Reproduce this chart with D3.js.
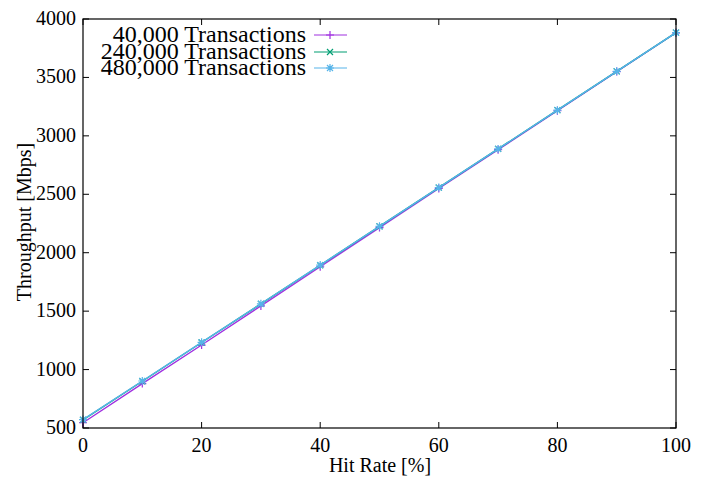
<!DOCTYPE html>
<html lang="en">
<head>
<meta charset="utf-8"/>
<title>Throughput vs hit rate</title>
<script src="https://d3js.org/d3.v7.min.js"></script>
<style>
  body { margin: 0; background: #fff; }
</style>
</head>
<body>
<script>
// data
const hitRates = [0, 10, 20, 30, 40, 50, 60, 70, 80, 90, 100]
const tx40k  = [545, 880, 1210, 1545, 1880, 2215, 2550, 2882, 3215, 3550, 3882]
const tx240k = [570, 900, 1232, 1562, 1893, 2225, 2557, 2888, 3220, 3552, 3884]
const tx480k = [572, 902, 1233, 1563, 1894, 2226, 2557, 2888, 3220, 3552, 3884]
const seriesNames = ["40,000 Transactions", "240,000 Transactions", "480,000 Transactions"]
const seriesValues = [tx40k, tx240k, tx480k]
const colors = ["#a030e0", "#009e73", "#56b4e9"]
const xTicks = [0, 20, 40, 60, 80, 100]
const yTicks = [500, 1000, 1500, 2000, 2500, 3000, 3500, 4000]

const W = 706, H = 479
const m = { left: 83, right: 706 - 676, top: 19, bottom: 479 - 428 }
const FONT = "Liberation Serif"

const svg = d3.select("body").append("svg").attr("width", W).attr("height", H)

const x = d3.scaleLinear().domain([0, 100]).range([m.left, W - m.right])
const y = d3.scaleLinear().domain([500, 4000]).range([H - m.bottom, m.top])

const tick = 6
// ticks, inward, mirrored
const g = svg.append("g").attr("stroke", "#000").attr("stroke-width", 1)
xTicks.forEach(v => {
  g.append("line").attr("x1", x(v)).attr("x2", x(v)).attr("y1", y(500)).attr("y2", y(500) - tick)
  g.append("line").attr("x1", x(v)).attr("x2", x(v)).attr("y1", y(4000)).attr("y2", y(4000) + tick)
})
yTicks.forEach(v => {
  g.append("line").attr("x1", x(0)).attr("x2", x(0) + tick).attr("y1", y(v)).attr("y2", y(v))
  g.append("line").attr("x1", x(100)).attr("x2", x(100) - tick).attr("y1", y(v)).attr("y2", y(v))
})

svg.append("g").selectAll("text").data(xTicks).join("text")
  .attr("x", d => x(d)).attr("y", y(500) + 24)
  .attr("text-anchor", "middle").style("font-family", FONT).style("font-size", "20px")
  .text(d => d)
svg.append("g").selectAll("text").data(yTicks).join("text")
  .attr("x", x(0) - 7).attr("y", d => y(d) + 6)
  .attr("text-anchor", "end").style("font-family", FONT).style("font-size", "20px")
  .text(d => d)

svg.append("text").attr("x", 380).attr("y", 472).attr("text-anchor", "middle")
  .style("font-family", FONT).style("font-size", "20px").text("Hit Rate [%]")
svg.append("text").attr("transform", "translate(31,222) rotate(-90)")
  .attr("text-anchor", "middle").style("font-family", FONT).style("font-size", "20px")
  .text("Throughput [Mbps]")

// point markers: +, x, *
function marker(sel, type, color) {
  const s = 4, d = 3
  const p = sel.append("path").attr("stroke", color).attr("stroke-width", 1.2).attr("fill", "none")
  if (type === 0) p.attr("d", `M${-s},0H${s}M0,${-s}V${s}`)
  else if (type === 1) p.attr("d", `M${-d},${-d}L${d},${d}M${-d},${d}L${d},${-d}`)
  else p.attr("d", `M${-s},0H${s}M0,${-s}V${s}M${-d},${-d}L${d},${d}M${-d},${d}L${d},${-d}`)
  return p
}

const line = d3.line().x((d, i) => x(hitRates[i])).y(d => y(d))
seriesValues.forEach((vals, k) => {
  svg.append("path").datum(vals).attr("d", line)
    .attr("fill", "none").attr("stroke", colors[k]).attr("stroke-width", 1.4)
  vals.forEach((v, i) => {
    const gm = svg.append("g").attr("transform", `translate(${x(hitRates[i])},${y(v)})`)
    marker(gm, k, colors[k])
  })
})

// legend
const ly = [35, 52, 68]
seriesNames.forEach((name, k) => {
  svg.append("text").attr("x", 306).attr("y", ly[k] + 7).attr("text-anchor", "end")
    .style("font-family", FONT).style("font-size", "24px").text(name)
  svg.append("line").attr("x1", 314).attr("x2", 347).attr("y1", ly[k]).attr("y2", ly[k])
    .attr("stroke", colors[k]).attr("stroke-width", 1.2)
  const gm = svg.append("g").attr("transform", `translate(330,${ly[k]})`)
  marker(gm, k, colors[k])
})

// frame
svg.append("rect").attr("x", x(0)).attr("y", y(4000))
  .attr("width", x(100) - x(0)).attr("height", y(500) - y(4000))
  .attr("fill", "none").attr("stroke", "#000").attr("stroke-width", 1.2)
</script>
</body>
</html>
